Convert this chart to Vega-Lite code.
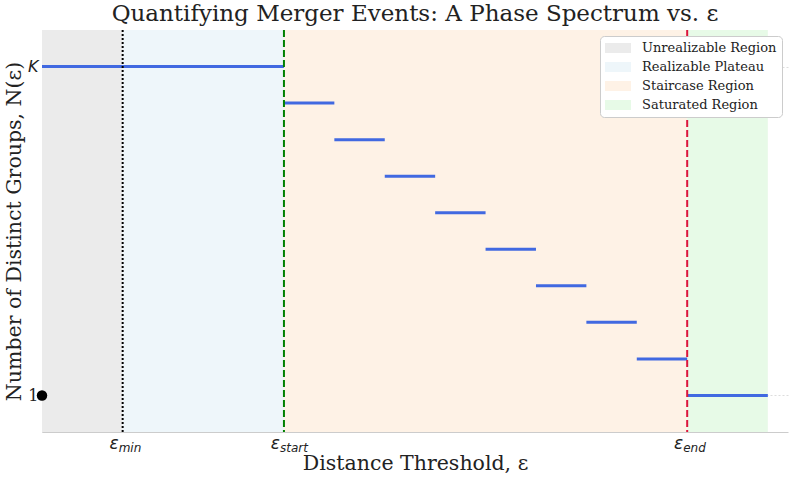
{
  "$schema": "https://vega.github.io/schema/vega-lite/v6.json",
  "width": 746,
  "height": 402,
  "autosize": {"type": "none"},
  "padding": {"left": 42, "top": 30, "right": 5, "bottom": 48},
  "title": {"text": "Quantifying Merger Events: A Phase Spectrum vs. ε", "font": "DejaVu Serif", "fontSize": 23, "fontWeight": "normal", "color": "#222222", "offset": 3, "anchor": "middle"},
  "config": {
    "view": {"stroke": null},
    "legend": {
      "orient": "top-right", "offset": 6, "padding": 5, "fillColor": "white", "strokeColor": "#cccccc", "cornerRadius": 4,
      "labelFont": "DejaVu Serif", "labelFontSize": 13, "labelColor": "#222222",
      "symbolType": "M-1,-0.714H2.714V0.714H-1Z", "symbolSize": 196, "symbolStrokeWidth": 0, "symbolOpacity": 1, "rowPadding": 5, "labelOffset": 23
    }
  },
  "datasets": {
    "regions": [
      {"region": "Unrealizable Region", "start": 0, "end": 1.6},
      {"region": "Realizable Plateau", "start": 1.6, "end": 4.8},
      {"region": "Staircase Region", "start": 4.8, "end": 12.8},
      {"region": "Saturated Region", "start": 12.8, "end": 14.4}
    ],
    "steps": [
      {"x0": 0, "x1": 4.8, "n": 10},
      {"x0": 4.8, "x1": 5.8, "n": 9},
      {"x0": 5.8, "x1": 6.8, "n": 8},
      {"x0": 6.8, "x1": 7.8, "n": 7},
      {"x0": 7.8, "x1": 8.8, "n": 6},
      {"x0": 8.8, "x1": 9.8, "n": 5},
      {"x0": 9.8, "x1": 10.8, "n": 4},
      {"x0": 10.8, "x1": 11.8, "n": 3},
      {"x0": 11.8, "x1": 12.8, "n": 2},
      {"x0": 12.8, "x1": 14.4, "n": 1}
    ],
    "thresholds": [
      {"eps": 1.6, "sub": "min"},
      {"eps": 4.8, "sub": "start"},
      {"eps": 12.8, "sub": "end"}
    ]
  },
  "layer": [
    {
      "data": {"name": "regions"},
      "mark": {"type": "rect", "opacity": 1},
      "encoding": {
        "x": {"field": "start", "type": "quantitative", "scale": {"domain": [0, 14.8], "nice": false, "zero": false},
          "axis": {"labels": false, "ticks": false, "grid": false, "domainColor": "#cccccc", "title": "Distance Threshold, ε", "titleFont": "DejaVu Serif", "titleFontSize": 20.5, "titleFontWeight": "normal", "titleColor": "#222222", "titlePadding": 21}},
        "x2": {"field": "end"},
        "color": {"field": "region", "type": "nominal", "title": null,
          "scale": {"domain": ["Unrealizable Region", "Realizable Plateau", "Staircase Region", "Saturated Region"], "range": ["#ebebeb", "#eef6fa", "#fef2e6", "#e7fae7"]}}
      }
    },
    {
      "data": {"name": "steps"},
      "mark": {"type": "rule", "color": "#4169e1", "strokeWidth": 3},
      "encoding": {
        "x": {"field": "x0", "type": "quantitative"},
        "x2": {"field": "x1"},
        "y": {"field": "n", "type": "quantitative", "scale": {"domain": [0, 11], "nice": false, "zero": false},
          "axis": {"values": [1, 10], "labelExpr": "datum.value == 10 ? 'K' : '1'", "ticks": false, "grid": true, "gridDash": [2, 2], "gridColor": "#dddddd", "domainColor": "#cccccc",
            "labelFontSize": 16, "labelColor": "#222222", "labelPadding": 4,
            "labelFont": {"condition": {"test": "datum.value == 10", "value": "DejaVu Sans"}, "value": "DejaVu Serif"},
            "labelFontStyle": {"condition": {"test": "datum.value == 10", "value": "italic"}, "value": "normal"},
            "title": "Number of Distinct Groups, N(ε)", "titleFont": "DejaVu Serif", "titleFontSize": 20.5, "titleFontWeight": "normal", "titleColor": "#222222", "titlePadding": 3}}
      }
    },
    {
      "data": {"values": [{"eps": 1.6}]},
      "mark": {"type": "rule", "color": "black", "strokeWidth": 2, "strokeDash": [2, 2]},
      "encoding": {"x": {"field": "eps", "type": "quantitative"}}
    },
    {
      "data": {"values": [{"eps": 4.8}]},
      "mark": {"type": "rule", "color": "#008000", "strokeWidth": 2, "strokeDash": [7, 3]},
      "encoding": {"x": {"field": "eps", "type": "quantitative"}}
    },
    {
      "data": {"values": [{"eps": 12.8}]},
      "mark": {"type": "rule", "color": "#dc143c", "strokeWidth": 2, "strokeDash": [7, 3]},
      "encoding": {"x": {"field": "eps", "type": "quantitative"}}
    },
    {
      "data": {"values": [{"x": 0, "n": 1}]},
      "mark": {"type": "point", "filled": true, "color": "black", "opacity": 1, "size": 110},
      "encoding": {"x": {"field": "x", "type": "quantitative"}, "y": {"field": "n", "type": "quantitative"}}
    },
    {
      "data": {"name": "thresholds"},
      "mark": {"type": "text", "text": "ε", "font": "DejaVu Sans", "fontStyle": "italic", "fontSize": 17, "align": "right", "baseline": "alphabetic", "dx": -4, "dy": 17, "color": "#222222"},
      "encoding": {"x": {"field": "eps", "type": "quantitative"}, "y": {"datum": 0, "type": "quantitative"}}
    },
    {
      "data": {"name": "thresholds"},
      "mark": {"type": "text", "font": "DejaVu Sans", "fontStyle": "italic", "fontSize": 12, "align": "left", "baseline": "alphabetic", "dx": -4, "dy": 20, "color": "#222222"},
      "encoding": {"x": {"field": "eps", "type": "quantitative"}, "y": {"datum": 0, "type": "quantitative"}, "text": {"field": "sub"}}
    }
  ]
}
